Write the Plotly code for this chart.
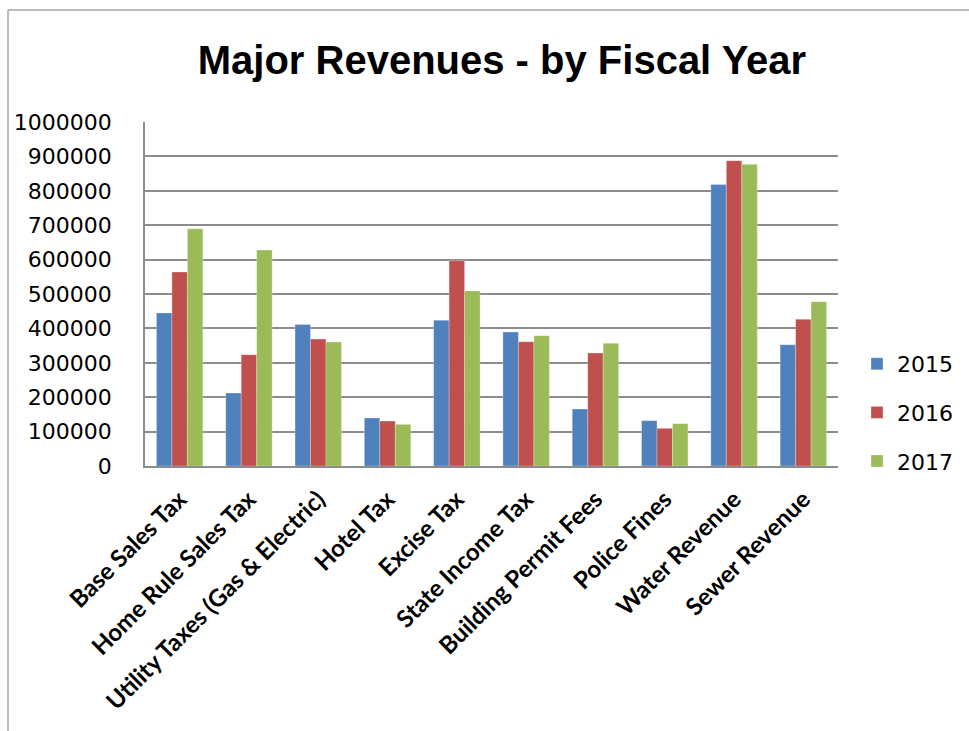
import plotly.graph_objects as go

categories = [
    "Base Sales Tax", "Home Rule Sales Tax", "Utility Taxes (Gas & Electric)",
    "Hotel Tax", "Excise Tax", "State Income Tax", "Building Permit Fees",
    "Police Fines", "Water Revenue", "Sewer Revenue",
]
fy2015 = [445000, 212000, 411000, 139500, 424000, 389500, 165700, 131800, 818000, 352700]
fy2016 = [564000, 323600, 369000, 130800, 597000, 361400, 328500, 109500, 887600, 426400]
fy2017 = [690000, 628000, 360500, 121000, 508700, 378800, 356600, 123000, 877000, 477700]
years = ["2015", "2016", "2017"]
colors = ["#4F81BD", "#C0504D", "#9BBB59"]
y_ticks = [0, 100000, 200000, 300000, 400000, 500000, 600000, 700000, 800000, 900000, 1000000]

fig = go.Figure()
for name, vals, col in zip(years, [fy2015, fy2016, fy2017], colors):
    fig.add_trace(go.Bar(
        x=categories, y=vals, name=name, legendgroup=name,
        marker=dict(color=col, line=dict(color="rgba(255,255,255,0.35)", width=0.8)),
    ))

W, H = 969, 731
L, R, T, B = 145, 131, 122, 265
pw, ph = W - L - R, H - T - B

def px_x(x):
    return (x - L) / pw

def px_y(y):
    return (H - B - y) / ph

fig.update_layout(
    width=W, height=H,
    margin=dict(l=L, r=R, t=T, b=B, pad=0, autoexpand=False),
    paper_bgcolor="white", plot_bgcolor="white",
    barmode="group", bargap=0.33, bargroupgap=0,
    title=dict(
        text="<b>Major Revenues - by Fiscal Year</b>",
        x=0.518, xanchor="center", y=1 - 60 / H, yanchor="middle",
        font=dict(family="Liberation Sans, Arial", size=40, color="black"),
    ),
    showlegend=True,
    legend=dict(
        x=px_x(857), y=px_y(343), xanchor="left", yanchor="top",
        font=dict(family="DejaVu Sans, Open Sans", size=22, color="black"),
        tracegroupgap=17, itemwidth=30, bgcolor="rgba(0,0,0,0)",
    ),
    xaxis=dict(
        tickangle=-45, showgrid=False, showline=True, linecolor="#8C8C8C", linewidth=1.5,
        ticks="", ticklabelstandoff=8,
        tickfont=dict(family="Lato, Open Sans", size=24, color="black", weight="bold"),
    ),
    yaxis=dict(
        range=[0, 1000000], tickvals=y_ticks, ticktext=[str(v) for v in y_ticks],
        showgrid=True, gridcolor="#8C8C8C", gridwidth=1.5,
        showline=True, linecolor="#8C8C8C", linewidth=1.5, zeroline=False,
        ticks="", ticklabelstandoff=27,
        tickfont=dict(family="DejaVu Sans, Open Sans", size=22, color="black"),
    ),
    shapes=[
        dict(type="line", xref="paper", yref="paper", x0=px_x(8), x1=px_x(W + 5), y0=px_y(10), y1=px_y(10),
             line=dict(color="#A6A6A6", width=1.5)),
        dict(type="line", xref="paper", yref="paper", x0=px_x(8), x1=px_x(8), y0=px_y(10), y1=px_y(H + 5),
             line=dict(color="#A6A6A6", width=1.5)),
    ],
)

fig.write_html("out.html")
